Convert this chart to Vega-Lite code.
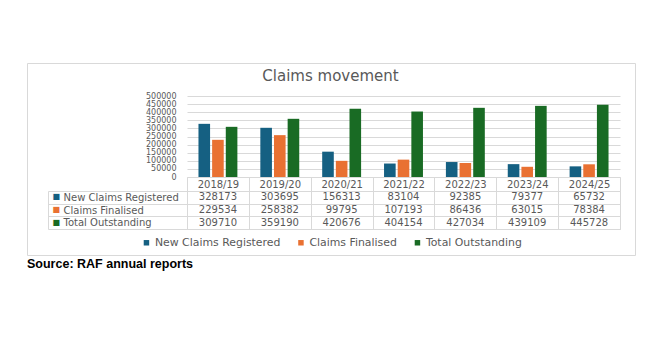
{
  "$schema": "https://vega.github.io/schema/vega-lite/v6.json",
  "autosize": {"type": "pad"},
  "padding": {"left": 27, "top": 62, "right": 5, "bottom": 5},
  "background": "white",
  "config": {"view": {"stroke": null}, "font": "DejaVu Sans"},
  "spacing": 14,
  "bounds": "flush",
  "title": {"text": "Source: RAF annual reports", "orient": "bottom", "anchor": "start", "frame": "bounds", "font": "Liberation Sans", "fontSize": 12.5, "fontWeight": "bold", "color": "#000000", "offset": -30, "dx": 0},
  "data": {"values": [
    {"year": "2018/19", "series": "New Claims Registered", "value": 328173},
    {"year": "2018/19", "series": "Claims Finalised", "value": 229534},
    {"year": "2018/19", "series": "Total Outstanding", "value": 309710},
    {"year": "2019/20", "series": "New Claims Registered", "value": 303695},
    {"year": "2019/20", "series": "Claims Finalised", "value": 258382},
    {"year": "2019/20", "series": "Total Outstanding", "value": 359190},
    {"year": "2020/21", "series": "New Claims Registered", "value": 156313},
    {"year": "2020/21", "series": "Claims Finalised", "value": 99795},
    {"year": "2020/21", "series": "Total Outstanding", "value": 420676},
    {"year": "2021/22", "series": "New Claims Registered", "value": 83104},
    {"year": "2021/22", "series": "Claims Finalised", "value": 107193},
    {"year": "2021/22", "series": "Total Outstanding", "value": 404154},
    {"year": "2022/23", "series": "New Claims Registered", "value": 92385},
    {"year": "2022/23", "series": "Claims Finalised", "value": 86436},
    {"year": "2022/23", "series": "Total Outstanding", "value": 427034},
    {"year": "2023/24", "series": "New Claims Registered", "value": 79377},
    {"year": "2023/24", "series": "Claims Finalised", "value": 63015},
    {"year": "2023/24", "series": "Total Outstanding", "value": 439109},
    {"year": "2024/25", "series": "New Claims Registered", "value": 65732},
    {"year": "2024/25", "series": "Claims Finalised", "value": 78384},
    {"year": "2024/25", "series": "Total Outstanding", "value": 445728}
  ]},
  "vconcat": [
    {
      "width": 433,
      "height": 81,
      "title": {"text": "Claims movement", "font": "DejaVu Sans", "fontSize": 15, "fontWeight": "normal", "color": "#595959", "anchor": "middle", "frame": "group", "dx": -73, "offset": -22},
      "layer": [
        {
          "mark": {"type": "bar"},
          "encoding": {
            "x": {"field": "year", "type": "nominal", "sort": null, "scale": {"paddingInner": 0, "paddingOuter": 0},
              "axis": {"title": null, "labelAngle": 0, "tickBand": "extent", "ticks": true, "tickSize": 14, "tickColor": "#d9d9d9", "domainColor": "#d9d9d9", "labelColor": "#595959", "labelFontSize": 10, "labelPadding": -7, "labelBaseline": "middle"}},
            "xOffset": {"field": "series", "type": "nominal", "sort": ["New Claims Registered", "Claims Finalised", "Total Outstanding"], "scale": {"paddingInner": 0.15, "paddingOuter": 0.84}},
            "y": {"field": "value", "type": "quantitative", "scale": {"domain": [0, 500000], "nice": false},
              "axis": {"title": null, "values": [0, 50000, 100000, 150000, 200000, 250000, 300000, 350000, 400000, 450000, 500000], "format": "d", "grid": true, "gridColor": "#d9d9d9", "domain": false, "ticks": false, "labelColor": "#595959", "labelFontSize": 8, "labelPadding": 11, "labelOverlap": false, "labelBaseline": "middle"}},
            "color": {"field": "series", "type": "nominal", "sort": ["New Claims Registered", "Claims Finalised", "Total Outstanding"],
              "scale": {"domain": ["New Claims Registered", "Claims Finalised", "Total Outstanding"], "range": ["#156082", "#E97132", "#196B24"]},
              "legend": {"orient": "none", "legendX": -46, "legendY": 141, "direction": "horizontal", "title": null, "symbolType": "square", "symbolSize": 30, "symbolStrokeWidth": 0, "labelFontSize": 10.9, "labelColor": "#595959", "columnPadding": 14.5, "labelOffset": 3, "padding": 0}}
          }
        },
        {
          "mark": {"type": "point", "opacity": 0},
          "encoding": {
            "x": {"field": "value", "type": "quantitative", "scale": {"range": [-160, 448]},
              "axis": {"orient": "top", "offset": 33, "title": null, "labels": false, "ticks": false, "grid": false, "domain": true, "domainColor": "#d9d9d9"}},
            "y": {"field": "value", "type": "quantitative", "scale": {"range": [159, -33]},
              "axis": {"orient": "left", "offset": 160, "title": null, "labels": false, "ticks": false, "grid": false, "domain": true, "domainColor": "#d9d9d9"}}
          }
        },
        {
          "mark": {"type": "point", "opacity": 0},
          "encoding": {
            "x": {"field": "value", "type": "quantitative", "scale": {"range": [-160, 448]},
              "axis": {"orient": "bottom", "offset": 78, "title": null, "labels": false, "ticks": false, "grid": false, "domain": true, "domainColor": "#d9d9d9"}},
            "y": {"field": "value", "type": "quantitative", "scale": {"range": [159, -33]},
              "axis": {"orient": "right", "offset": 15, "title": null, "labels": false, "ticks": false, "grid": false, "domain": true, "domainColor": "#d9d9d9"}}
          }
        }
      ],
      "resolve": {"scale": {"x": "independent", "y": "independent"}, "axis": {"x": "independent", "y": "independent"}}
    },
    {
      "width": 433,
      "height": 38,
      "view": {"stroke": "#d9d9d9"},
      "layer": [
        {
          "mark": {"type": "text", "fontSize": 10, "color": "#595959", "font": "DejaVu Sans"},
          "encoding": {
            "x": {"field": "year", "type": "nominal", "sort": null, "scale": {"type": "band", "paddingInner": 0, "paddingOuter": 0},
              "axis": {"title": null, "labels": false, "ticks": false, "domain": false, "grid": true, "gridColor": "#d9d9d9", "tickBand": "extent"}},
            "y": {"field": "series", "type": "nominal", "sort": ["New Claims Registered", "Claims Finalised", "Total Outstanding"], "scale": {"type": "band", "paddingInner": 0, "paddingOuter": 0},
              "axis": {"title": null, "orient": "left", "grid": true, "gridColor": "#d9d9d9", "tickBand": "extent", "ticks": true, "tickSize": 139, "tickColor": "#d9d9d9", "domain": false, "labelAlign": "left", "labelBaseline": "middle", "labelPadding": -15, "labelColor": "#595959", "labelFontSize": 10}},
            "text": {"field": "value", "type": "quantitative", "format": "d"}
          }
        },
        {
          "mark": {"type": "text", "opacity": 0},
          "encoding": {
            "y": {"field": "series", "type": "nominal", "sort": ["New Claims Registered", "Claims Finalised", "Total Outstanding"], "scale": {"type": "band", "paddingInner": 0, "paddingOuter": 0},
              "axis": {"title": null, "orient": "left", "offset": 139, "grid": false, "ticks": false, "domain": true, "domainColor": "#d9d9d9", "labelExpr": "'■'", "labelAlign": "left", "labelBaseline": "middle", "labelPadding": -4, "labelFontSize": 8,
                "labelColor": {"condition": [{"test": "datum.value === 'New Claims Registered'", "value": "#156082"}, {"test": "datum.value === 'Claims Finalised'", "value": "#E97132"}], "value": "#196B24"}}},
            "text": {"value": "x"}
          }
        }
      ],
      "resolve": {"scale": {"y": "independent"}, "axis": {"y": "independent"}}
    }
  ]
}
